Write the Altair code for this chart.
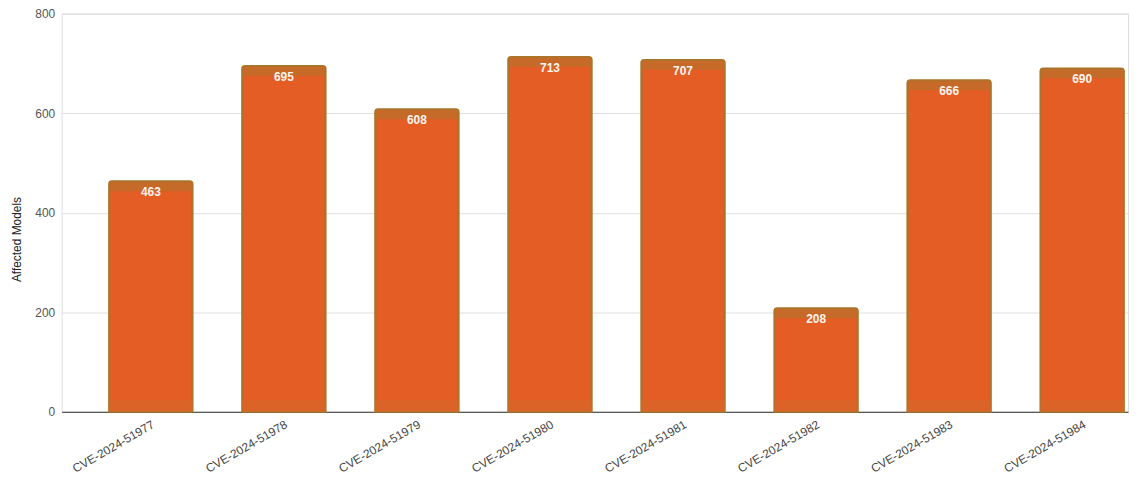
import altair as alt
import pandas as pd

cves = ["CVE-2024-51977", "CVE-2024-51978", "CVE-2024-51979", "CVE-2024-51980",
        "CVE-2024-51981", "CVE-2024-51982", "CVE-2024-51983", "CVE-2024-51984"]
models = [463, 695, 608, 713, 707, 208, 666, 690]

df = pd.DataFrame({"cve": cves, "models": models})

x = alt.X(
    "cve:N", sort=None, title=None,
    scale=alt.Scale(paddingInner=0.373, paddingOuter=0.194, align=0.92),
    axis=alt.Axis(labelAngle=-30, labelAlign="right", labelBaseline="top",
                  ticks=False, domainColor="#333333", labelColor="#444444",
                  labelFontSize=12, labelPadding=7, grid=False),
)
y = alt.Y(
    "models:Q", title="Affected Models",
    scale=alt.Scale(domain=[0, 800]),
    axis=alt.Axis(values=[0, 200, 400, 600, 800], domain=False, ticks=False,
                  gridColor="#e0e0e0", labelColor="#555555", labelFontSize=12,
                  labelPadding=7, titleFontSize=12, titleFontWeight="normal",
                  titleColor="#222222", titleAngle=-90, titleX=-50, titleY=227,
                  titleAlign="center", titleBaseline="top"),
)

base = alt.Chart(df).encode(x=x, y=y)

bars = base.mark_bar(color="#E45D25", stroke="#A8752A", strokeWidth=2,
                     cornerRadiusTopLeft=3, cornerRadiusTopRight=3)
bottom = base.mark_tick(color="#D8662A", thickness=12, size=84, yOffset=-6).encode(y=alt.datum(0))
top = base.mark_tick(color="#B8702B", thickness=10, size=84, yOffset=5)
text = base.mark_text(color="#FFF4EE", fontWeight="bold", fontSize=12,
                      baseline="middle", dy=11).encode(text="models:Q")

chart = alt.layer(bars, bottom, top, text).properties(
    width=1074, height=401,
    autosize=alt.AutoSizeParams(type="none"),
    padding={"left": 54, "top": 4, "right": 2, "bottom": 66},
).configure_view(stroke=None).configure(font="Liberation Sans")

chart.save("out.html", embed_options={"renderer": "svg", "actions": False})
